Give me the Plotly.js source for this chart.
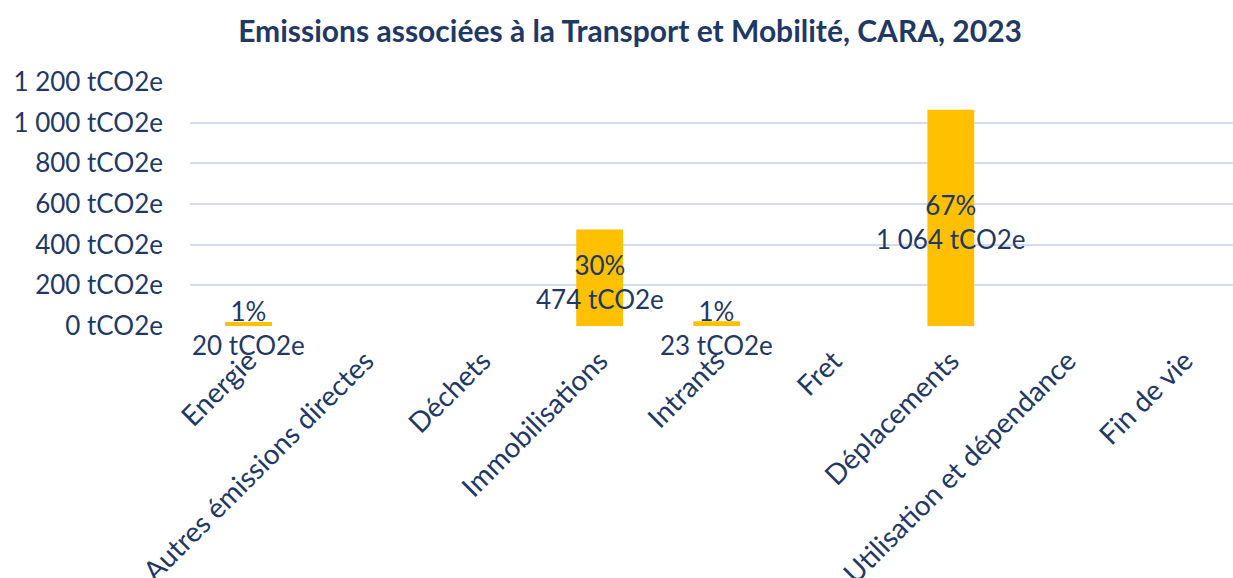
<!DOCTYPE html>
<html>
<head>
<meta charset="utf-8">
<script src="https://cdn.plot.ly/plotly-3.0.1.min.js"></script>
<style>
html,body{margin:0;padding:0;overflow:hidden;background:#fff;}
#chart{width:1233px;height:578px;}
</style>
</head>
<body>
<div id="chart"></div>
<script>
const categories = ["Energie","Autres émissions directes","Déchets","Immobilisations","Intrants","Fret","Déplacements","Utilisation et dépendance","Fin de vie"];
const emissions = [20, 0, 0, 474, 23, 0, 1064, 0, 0];
const shares = ["1%", "", "", "30%", "1%", "", "67%", "", ""];
const yTicks = [0, 200, 400, 600, 800, 1000, 1200];

const navy = "#1F3864";
const font = "Lato, 'Open Sans', sans-serif";

function fmt(v){ return String(v).replace(/\B(?=(\d{3})+(?!\d))/g, " "); }

const annotations = [];
categories.forEach((c,i)=>{
  if (emissions[i] > 0) {
    annotations.push({
      x:c, y:emissions[i]/2, xref:"x", yref:"y",
      text: shares[i] + "<br>" + fmt(emissions[i]) + " tCO2e",
      showarrow:false, yshift:-4, xanchor:"center", yanchor:"middle",
      font:{family:font, size:26, color:navy}
    });
  }
});

const traces = [
  {type:"bar", x:categories, y:emissions, width:0.4, marker:{color:"#FFC000"}, hoverinfo:"x+y"}
];

const layout = {
  width:1233, height:578,
  margin:{l:190, r:0, t:82, b:252},
  paper_bgcolor:"#fff", plot_bgcolor:"#fff",
  showlegend:false,
  annotations: annotations,
  title:{text:"<b>Emissions associées à la Transport et Mobilité, CARA, 2023</b>",
         font:{family:font, size:30, color:navy}, x:0.511, xanchor:"center", y:0.945, yanchor:"middle"},
  xaxis:{type:"category", range:[-0.5, 8.411], tickangle:-45, showgrid:false, zeroline:false,
         showline:false, ticks:"", tickfont:{family:font, size:28, color:navy}, ticklabelstandoff:12},
  yaxis:{range:[0,1200], tickvals:yTicks, ticktext:yTicks.map(v=>fmt(v)+" tCO2e"),
         showgrid:true, gridcolor:"#D5DBEF", gridwidth:2, zeroline:false, showline:false, ticks:"",
         tickfont:{family:font, size:26, color:navy}, ticklabelstandoff:26}
};

Plotly.newPlot("chart", traces, layout, {displayModeBar:false, staticPlot:true});
</script>
</body>
</html>
